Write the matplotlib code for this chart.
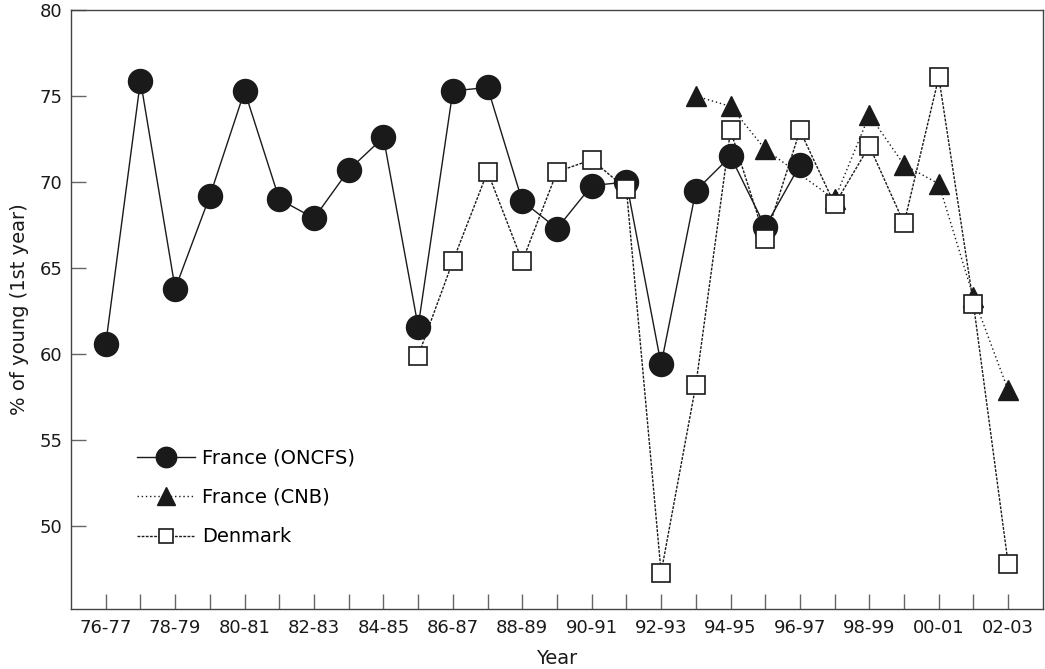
import matplotlib
matplotlib.use("Agg")
import matplotlib.pyplot as plt

seasons = ["76-77", "77-78", "78-79", "79-80", "80-81", "81-82", "82-83", "83-84",
           "84-85", "85-86", "86-87", "87-88", "88-89", "89-90", "90-91", "91-92",
           "92-93", "93-94", "94-95", "95-96", "96-97", "97-98", "98-99", "99-00",
           "00-01", "01-02", "02-03"]

oncfs_seasons = seasons[0:21]
oncfs = [60.6, 75.9, 63.8, 69.2, 75.3, 69.0, 67.9, 70.7, 72.6, 61.6, 75.3,
         75.5, 68.9, 67.3, 69.8, 70.0, 59.4, 69.5, 71.5, 67.4, 71.0]

cnb_seasons = ["93-94", "94-95", "95-96", "97-98", "98-99", "99-00",
               "00-01", "01-02", "02-03"]
cnb = [75.0, 74.4, 71.9, 69.0, 73.9, 71.0, 69.9, 63.3, 57.9]

denmark_seasons = seasons[9:27]
denmark = [59.9, 65.4, 70.6, 65.4, 70.6, 71.3, 69.6, 47.3, 58.2, 73.0, 66.7,
           73.0, 68.7, 72.1, 67.6, 76.1, 62.9, 47.8]

plt.rcParams['font.family'] = ['DejaVu Sans']
fig = plt.figure(figsize=(10.45, 6.69), dpi=100)
ax = fig.add_axes([0.068, 0.090, 0.930, 0.895])

pos = {s: i for i, s in enumerate(seasons)}
ink = "#1a1a1a"
frame = "#444444"

ax.plot([pos[s] for s in oncfs_seasons], oncfs, color=ink, lw=1.0, ls='-',
        marker='o', ms=17.3, mfc=ink, mec=ink, label="France (ONCFS)", zorder=4)
ax.plot([pos[s] for s in cnb_seasons], cnb, color=ink, lw=1.0, ls=(0, (1, 2)),
        marker='^', ms=14.5, mfc=ink, mec=ink, label="France (CNB)", zorder=3)
ax.plot([pos[s] for s in denmark_seasons], denmark, color=ink, lw=1.0, ls=(0, (2, 1)),
        marker='s', ms=12.3, mfc='white', mec=ink, mew=1.2, label="Denmark", zorder=5)

ax.set_xlim(-1, 27)
ax.set_ylim(45.2, 80)
ax.set_xticks(range(len(seasons)))
ax.set_xticklabels([s if i % 2 == 0 else "" for i, s in enumerate(seasons)])
ax.set_yticks([50, 55, 60, 65, 70, 75, 80])
ax.tick_params(direction='in', length=10.5, width=1, color="#666666",
               labelsize=13, labelcolor=ink, pad=6)
ax.tick_params(axis='x', pad=7)
for sp in ax.spines.values():
    sp.set_color(frame)
    sp.set_linewidth(1)

ax.set_xlabel("Year", fontsize=14, color=ink, labelpad=9)
ax.set_ylabel("% of young (1st year)", fontsize=14, color=ink, labelpad=8)

ax.legend(loc='lower left', bbox_to_anchor=(0.05, 0.075), frameon=False,
          fontsize=14, handlelength=3.0, labelspacing=1.05, handletextpad=0.35,
          markerscale=0.85)

fig.savefig("out.png", dpi=100)
